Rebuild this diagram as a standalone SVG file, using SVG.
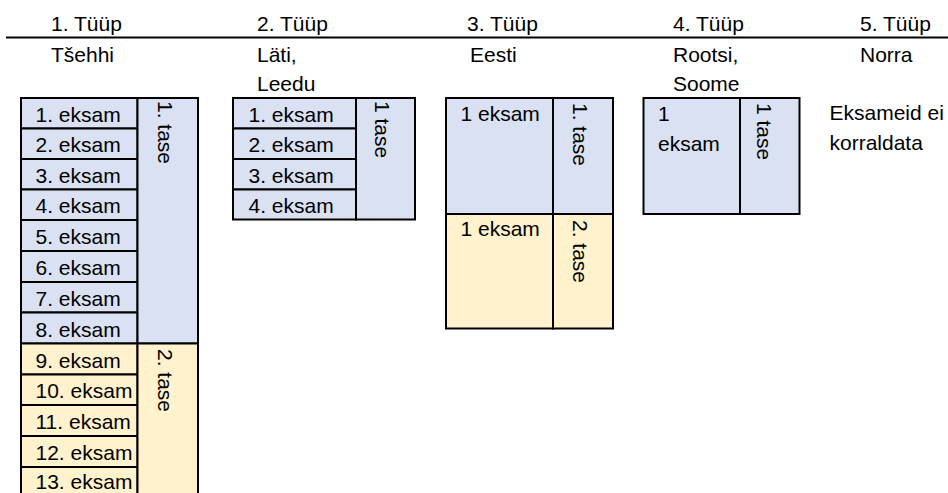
<svg xmlns="http://www.w3.org/2000/svg" width="948" height="493" viewBox="0 0 948 493">
<style>
text{font-family:"Liberation Sans",Arial,sans-serif;font-size:21px;fill:#000}
.b{fill:#D9E1F2;stroke:#000;stroke-width:2}
.y{fill:#FFF2CC;stroke:#000;stroke-width:2}
.ln{stroke:#000;stroke-width:2;fill:none}
</style>
<rect width="948" height="493" fill="#fff"/>
<g id="header-line"><line class="ln" x1="6" y1="37.5" x2="948" y2="37.5"/></g>
<g id="headers">
<text x="51" y="31">1. Tüüp</text>
<text x="51" y="62">Tšehhi</text>
<text x="257" y="31">2. Tüüp</text>
<text x="257" y="62">Läti,</text>
<text x="257" y="91">Leedu</text>
<text x="467" y="31">3. Tüüp</text>
<text x="470" y="62">Eesti</text>
<text x="673" y="31">4. Tüüp</text>
<text x="673" y="62">Rootsi,</text>
<text x="673" y="91">Soome</text>
<text x="860" y="31">5. Tüüp</text>
<text x="860" y="62">Norra</text>
</g>
<g id="type1">
<rect class="b" x="21" y="98" width="116.5" height="30.5"/>
<rect class="b" x="21" y="128.5" width="116.5" height="30.5"/>
<rect class="b" x="21" y="159" width="116.5" height="30.5"/>
<rect class="b" x="21" y="189.5" width="116.5" height="30.5"/>
<rect class="b" x="21" y="220" width="116.5" height="31"/>
<rect class="b" x="21" y="251" width="116.5" height="31"/>
<rect class="b" x="21" y="282" width="116.5" height="30.5"/>
<rect class="b" x="21" y="312.5" width="116.5" height="31"/>
<rect class="y" x="21" y="343.5" width="116.5" height="31"/>
<rect class="y" x="21" y="374.5" width="116.5" height="30.5"/>
<rect class="y" x="21" y="405" width="116.5" height="31"/>
<rect class="y" x="21" y="436" width="116.5" height="31"/>
<rect class="y" x="21" y="467" width="116.5" height="40"/>
<rect class="b" x="137.5" y="98" width="60.5" height="245.5"/>
<rect class="y" x="137.5" y="343.5" width="60.5" height="163.5"/>
<text x="35.5" y="121.5">1. eksam</text>
<text x="35.5" y="152">2. eksam</text>
<text x="35.5" y="182.5">3. eksam</text>
<text x="35.5" y="213">4. eksam</text>
<text x="35.5" y="244">5. eksam</text>
<text x="35.5" y="275">6. eksam</text>
<text x="35.5" y="305.5">7. eksam</text>
<text x="35.5" y="336.5">8. eksam</text>
<text x="35.5" y="367.5">9. eksam</text>
<text x="35.5" y="398">10. eksam</text>
<text x="35.5" y="429">11. eksam</text>
<text x="35.5" y="460">12. eksam</text>
<text x="35.5" y="489">13. eksam</text>
<text transform="translate(158,101) rotate(90)">1. tase</text>
<text transform="translate(158,349) rotate(90)">2. tase</text>
</g>
<g id="type2">
<rect class="b" x="233" y="98" width="123" height="30.5"/>
<rect class="b" x="233" y="128.5" width="123" height="30.5"/>
<rect class="b" x="233" y="159" width="123" height="30.5"/>
<rect class="b" x="233" y="189.5" width="123" height="30"/>
<rect class="b" x="356" y="98" width="59" height="121.5"/>
<text x="248.5" y="121.5">1. eksam</text>
<text x="248.5" y="152">2. eksam</text>
<text x="248.5" y="182.5">3. eksam</text>
<text x="248.5" y="213">4. eksam</text>
<text transform="translate(375,101) rotate(90)">1 tase</text>
</g>
<g id="type3">
<rect class="b" x="446" y="98" width="107" height="116"/>
<rect class="b" x="553" y="98" width="60" height="116"/>
<rect class="y" x="446" y="214" width="107" height="114.5"/>
<rect class="y" x="553" y="214" width="60" height="114.5"/>
<text x="460.5" y="120.5">1 eksam</text>
<text x="460.5" y="236">1 eksam</text>
<text transform="translate(573,103) rotate(90)">1. tase</text>
<text transform="translate(573,220) rotate(90)">2. tase</text>
</g>
<g id="type4">
<rect class="b" x="643.5" y="98" width="96.5" height="116"/>
<rect class="b" x="740" y="98" width="59.5" height="116"/>
<text x="658" y="121">1</text>
<text x="658" y="150.5">eksam</text>
<text transform="translate(757,103) rotate(90)">1 tase</text>
</g>
<g id="type5">
<text x="829.5" y="120">Eksameid ei</text>
<text x="829.5" y="150">korraldata</text>
</g>
<g id="connectors"></g>
</svg>
